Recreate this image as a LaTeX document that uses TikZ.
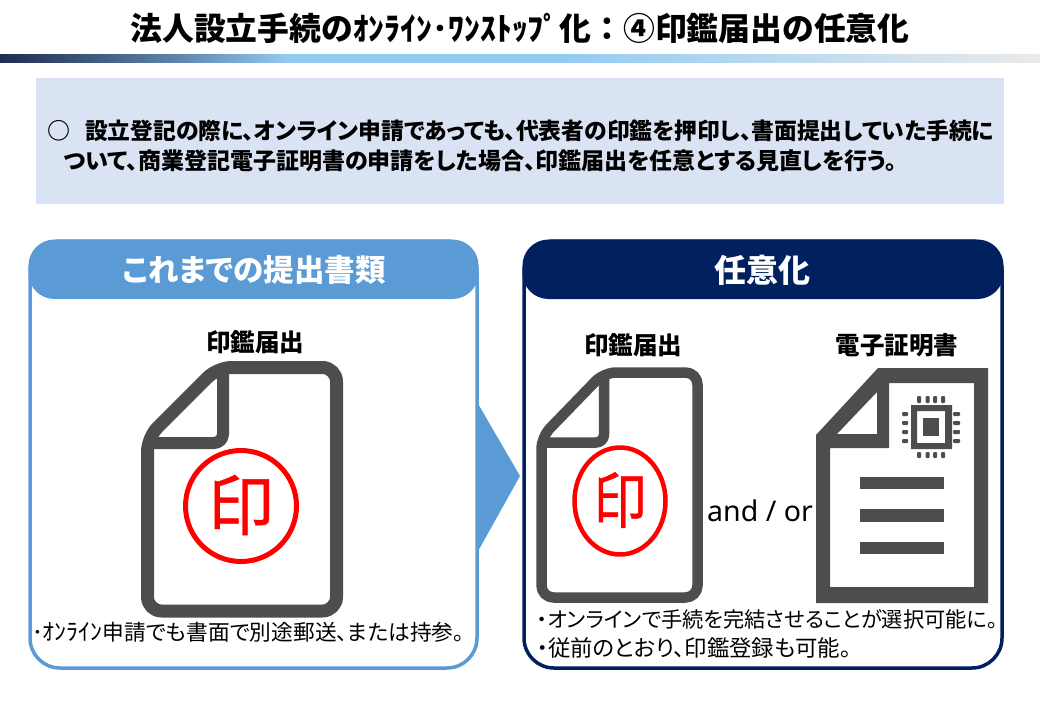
\documentclass[tikz,border=0pt]{standalone}
\usepackage{fontspec}
\setmainfont{Noto Sans CJK JP}
\newfontfamily\jp[RawFeature=+palt]{Noto Sans CJK JP}
\newfontfamily\jpfull{Noto Sans CJK JP}
\newfontfamily\jpstamp[FakeBold=0.6]{Noto Sans CJK JP}
\newfontfamily\latinf{Noto Sans}
\newcommand{\fs}[1]{\fontsize{#1}{#1}\selectfont}
\definecolor{barnavy}{HTML}{1F2D50}
\definecolor{barmid}{HTML}{5F86AE}
\definecolor{barlight}{HTML}{93CBF3}
\definecolor{bargrey}{HTML}{EAEAEA}
\definecolor{infofill}{HTML}{DAE3F3}
\definecolor{sky}{HTML}{5B9BD5}
\definecolor{navy}{HTML}{002060}
\definecolor{docgrey}{HTML}{4D4D4D}
\definecolor{stampred}{HTML}{FF0000}
\tikzset{
  x=1pt,y=1pt,
  txt/.style={inner sep=0pt,outer sep=0pt,text=black},
  docline/.style={draw=docgrey,line join=round},
  headtext/.style={txt,text=white,font=\jp\bfseries\fs{30.5}},
  labeltext/.style={txt,font=\jpfull\bfseries\fs{24.5}},
  bodytext/.style={txt,anchor=west,font=\jp\fs{22}},
  infotext/.style={txt,anchor=west,font=\jp\bfseries\fs{23}},
}
\begin{document}
\begin{tikzpicture}
\useasboundingbox (0,0) rectangle (1040,-720);
% title
\node[txt,font=\jpfull\bfseries\fs{31.8}] (title) at (520,-28) {法人設立手続の\jpfull ｵﾝﾗｲﾝ･ﾜﾝｽﾄｯﾌﾟ化：④印鑑届出の任意化};
% gradient bar
\shade[left color=barnavy,right color=barmid,draw=none] (0,-54) rectangle (180,-62);
\shade[left color=barmid,right color=barlight,draw=none] (179.5,-54) rectangle (290,-62);
\shade[left color=barlight,right color=barlight,draw=none] (289.5,-54) rectangle (560,-62);
\shade[left color=barlight,right color=bargrey,draw=none] (559.5,-54) rectangle (1040,-62);
% info box
\fill[infofill] (36,-78) rectangle (1004,-204);
\node[infotext] (bul) at (47,-131) {○};
\node[infotext,font=\jp\bfseries\fs{22.8}] (l1) at (85,-131) {設立登記の際に、オンライン申請であっても、代表者の印鑑を押印し、書面提出していた手続に};
\node[infotext] (l2) at (64,-161) {ついて、商業登記電子証明書の申請をした場合、印鑑届出を任意とする見直しを行う。};
% arrow
\fill[sky] (470,-402) -- (477,-402) -- (520,-476) -- (477,-553) -- (470,-553) -- cycle;
% panels
\draw[sky,line width=3.5pt,rounded corners=30pt,fill=white] (30,-241) rectangle (477,-668);
\fill[sky,rounded corners=26pt] (28.5,-239.5) rectangle (478.5,-299);
\draw[navy,line width=3.5pt,rounded corners=30pt,fill=white] (524,-241) rectangle (1002,-668);
\fill[navy,rounded corners=26pt] (522.5,-239.5) rectangle (1003.5,-299);
\node[headtext] (h1) at (254,-270) {これまでの提出書類};
\node[headtext,font=\jp\bfseries\fs{32}] (h2) at (762,-270) {任意化};
% left doc
\node[labeltext] (la) at (255,-342) {印鑑届出};
\draw[docline,line width=13pt,rounded corners=14pt] (147.5,-500) -- (147.5,-611) -- (336.5,-611) -- (336.5,-367.5) -- (217.5,-367.5) -- (147.5,-437.5) -- cycle;
\draw[docline,line width=12pt,rounded corners=9pt] (223,-368) -- (223,-443) -- (148,-443);
\draw[stampred,line width=5pt] (241,-506) circle (55.5);
\node[txt,text=stampred,font=\jpstamp\fs{66}] (sa) at (241,-505) {印};
% right doc 1
\node[labeltext] (lb) at (633,-345) {印鑑届出};
\draw[docline,line width=10.5pt,rounded corners=12pt] (541.5,-500) -- (541.5,-597.5) -- (697.5,-597.5) -- (697.5,-372.5) -- (604,-372.5) -- (541.5,-437) -- cycle;
\draw[docline,line width=10.5pt,rounded corners=8pt] (604,-373) -- (604,-442.5) -- (542,-442.5);
\draw[stampred,line width=4.5pt] (620,-501) ellipse (45.5 and 53.5);
\node[txt,text=stampred,font=\jpstamp\fs{53}] (sb) at (620,-500) {\scalebox{1}[1.15]{印}};
\node[txt,font=\latinf\fs{28.5}] (andor) at (760,-511) {and / or};
% right doc 2
\node[labeltext] (lc) at (897,-345) {電子証明書};
\fill[docgrey,even odd rule]
  (816,-435) -- (878,-368) -- (988,-368) -- (988,-603) -- (816,-603) -- cycle
  (830,-448) -- (889,-448) -- (889,-383) -- (974,-383) -- (974,-587) -- (830,-587) -- cycle
  (837,-434) -- (877,-392) -- (877,-434) -- cycle;
% chip
\fill[docgrey,even odd rule] (911,-405) rectangle (952,-449) (917,-411) rectangle (945,-443);
\fill[docgrey] (923,-418) rectangle (939,-436);
\foreach \px in {919,927.5,935,943}{
  \fill[docgrey,rounded corners=1pt] (\px-2,-396) rectangle (\px+2,-403);
  \fill[docgrey,rounded corners=1pt] (\px-2,-452) rectangle (\px+2,-458);
}
\foreach \py in {414,423,432,441}{
  \fill[docgrey,rounded corners=1pt] (902,-\py+2) rectangle (908,-\py-2);
  \fill[docgrey,rounded corners=1pt] (953,-\py+2) rectangle (960,-\py-2);
}
\foreach \ly/\lz in {477/489,509/522,542/554}{
  \fill[docgrey] (860,-\ly) rectangle (944,-\lz);
}
% bottom texts
\node[bodytext,font=\jp\fs{21.7}] (ba) at (32,-632) {･\scalebox{1.1}[1.08]{\jpfull ｵﾝﾗｲﾝ}\jp 申請でも書面で別途郵送、または持参。};
\node[bodytext,font=\jp\fs{21.2}] (bb) at (537,-619) {・オンラインで手続を完結させることが選択可能に。};
\node[bodytext,font=\jp\fs{22.4}] (bc) at (537,-648) {・従前のとおり、印鑑登録も可能。};
\end{tikzpicture}
\end{document}
